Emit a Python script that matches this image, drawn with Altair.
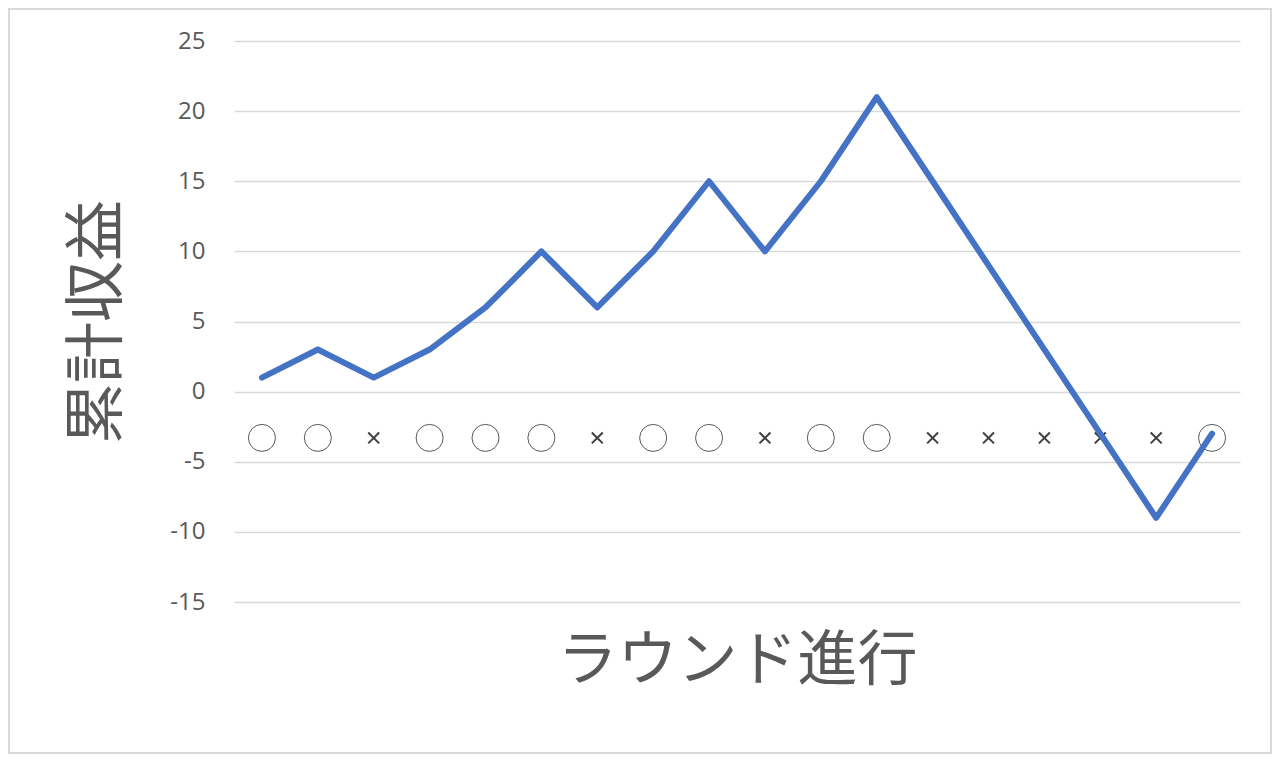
import altair as alt
import pandas as pd

rounds = list(range(1, 19))
cumulative = [1, 3, 1, 3, 6, 10, 6, 10, 15, 10, 15, 21, 15, 9, 3, -3, -9, -3]
results = ["○", "○", "×", "○", "○", "○", "×", "○", "○", "×", "○", "○", "×", "×", "×", "×", "×", "○"]
marker_level = -3.3
y_ticks = [-15, -10, -5, 0, 5, 10, 15, 20, 25]

df = pd.DataFrame({"round": rounds, "value": cumulative, "result": results})
df["marker"] = marker_level

W, H = 1006, 561
GRAY = "#595959"

x_scale = alt.Scale(domain=[0.5, 18.5], nice=False, zero=False)
y_scale = alt.Scale(domain=[-15, 25], nice=False)

x_axis = alt.Axis(title="ラウンド進行", labels=False, ticks=False, domain=False, grid=False,
                  titleFont="Noto Sans CJK JP", titleFontSize=60, titleFontWeight="normal",
                  titleColor=GRAY, titlePadding=30)
y_axis = alt.Axis(title="累計収益", values=y_ticks, ticks=False, domain=False, grid=True,
                  gridColor="#d9d9d9", gridWidth=1.5, labelFont="Open Sans", labelFontSize=24,
                  labelColor=GRAY, labelPadding=29, labelExpr="'' + datum.value",
                  titleFont="Noto Sans CJK JP", titleFontSize=61, titleFontWeight="normal",
                  titleColor=GRAY, titlePadding=40)

base = alt.Chart(df)

frame = base.mark_rect(fill=None, stroke="#d9d9d9", strokeWidth=2, clip=False).encode(
    x=alt.value(-225), x2=alt.value(1037), y=alt.value(-32), y2=alt.value(712)
).transform_filter(alt.datum.round == 1)

circles = base.transform_filter(alt.datum.result == "○").mark_point(
    shape="circle", size=729, filled=False, stroke=GRAY, strokeWidth=1, opacity=1
).encode(
    x=alt.X("round:Q", scale=x_scale, axis=x_axis),
    y=alt.Y("marker:Q", scale=y_scale, axis=y_axis),
)

crosses = base.transform_filter(alt.datum.result == "×").mark_point(
    shape="M -1 -1 L 1 1 M -1 1 L 1 -1", size=120, filled=False, stroke="#404040",
    strokeWidth=2, opacity=1
).encode(
    x=alt.X("round:Q", scale=x_scale),
    y=alt.Y("marker:Q", scale=y_scale),
)

line = base.mark_line(color="#4472C4", strokeWidth=6, strokeCap="round", strokeJoin="round").encode(
    x=alt.X("round:Q", scale=x_scale),
    y=alt.Y("value:Q", scale=y_scale),
)

chart = alt.layer(frame, circles, crosses, line).properties(
    width=W, height=H,
    autosize=alt.AutoSizeParams(type="none"),
    padding={"left": 226, "top": 33, "right": 32, "bottom": 152},
    background="white",
).configure_view(stroke=None)

chart.save("out.html", embed_options={"renderer": "svg", "actions": False})
